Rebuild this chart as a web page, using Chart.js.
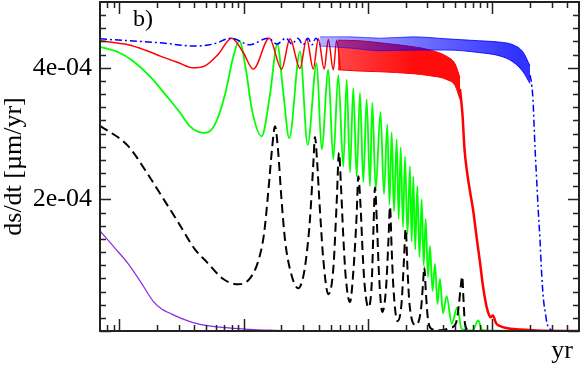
<!DOCTYPE html>
<html>
<head>
<meta charset="utf-8">
<title>ds/dt vs time</title>
<script src="https://cdn.jsdelivr.net/npm/chart.js@4.4.0/dist/chart.umd.min.js"></script>
<style>
    html, body { margin: 0; padding: 0; background: #fff; }
    #wrap { width: 581px; height: 368px; }
</style>
</head>
<body>
<div id="wrap"><canvas id="rateChart" width="581" height="368"></canvas></div>
<script>
// time in yr, rates in units of 1e-4 um/yr

const purpleYears = [700, 923, 1181, 1494, 1876, 2204, 2556, 3269, 4455, 7075, 11230, 18500, 23560];
const purpleRate = [1.52, 1.26, 1.02, 0.74, 0.45, 0.33, 0.27, 0.18, 0.10, 0.05, 0.026, 0.008, 0];

const greenYears = [700, 976, 1296, 1765, 2404, 3076, 3701, 4292, 4885, 5880, 7075,
    8204, 9218, 10430, 11660, 13950, 16270, 18630, 20700, 23260, 28350,
    32690, 38620, 42360, 47870, 52520, 57610, 63190, 67300, 71530, 76030,
    80970, 86060, 91500, 97430, 103600, 108100, 115100, 125800, 134200, 142700,
    148600, 154800, 161500, 169800, 176200, 182900, 190800, 198000, 207400, 217200,
    224100, 230800, 239500, 248600, 258900, 269700, 279800, 290400, 303000, 314500,
    329400, 345000, 361300, 378400, 400000, 428400, 469900, 521200, 565400, 659500,
    697300, 769000, 823400, 870400, 4960000];
const greenRate = [4.32, 4.24, 4.10, 3.87, 3.57, 3.32, 3.11, 3.03, 3.01, 3.14, 3.59,
    4.15, 4.41, 3.97, 3.36, 2.96, 3.59, 4.36, 3.67, 2.93, 4.25,
    2.83, 4.07, 2.76, 3.97, 2.61, 3.89, 2.50, 3.82, 2.41, 3.69,
    2.35, 3.62, 2.26, 3.52, 2.20, 3.47, 2.15, 3.33, 2.08, 3.14,
    1.92, 3.02, 1.82, 2.91, 1.70, 2.79, 1.58, 2.65, 1.47, 2.50,
    1.36, 2.35, 1.24, 2.20, 1.12, 2.00, 1.00, 1.70, 0.82, 1.29,
    0.61, 1.02, 0.41, 0.79, 0.27, 0.53, 0.11, 0.36, 0.03, 0.01,
    0.015, 0.16, 0.02, 0.01, 0];

const redYears = [700, 1180, 1610, 2190, 2960, 3910, 4890, 6210, 8000, 9870,
    11950, 16060, 20210, 23560, 28350, 32090, 36260, 39780, 44450, 47870,
    52520, 55930, 59990];
const redRate = [4.41, 4.35, 4.27, 4.17, 4.08, 4.00, 4.03, 4.20, 4.45, 4.24,
    3.98, 4.45, 3.98, 4.44, 3.99, 4.44, 3.98, 4.44, 3.98, 4.43,
    3.97, 4.42, 3.97];
// fast oscillations: upper / lower envelope
const redBandYears = [57300, 86100, 124600, 230000, 314500, 431000, 500000, 548000];
const redBandHigh = [4.42, 4.41, 4.38, 4.32, 4.27, 4.17, 4.06, 3.85];
const redBandLow = [3.97, 3.95, 3.94, 3.91, 3.88, 3.82, 3.73, 3.52];
const redTailYears = [548000, 574000, 596000, 624000, 660000, 701000, 746000, 793000, 839000, 887000,
    920000, 964000, 1009000, 1067000, 1149000, 1284000, 1664000, 2279000, 4960000];
const redTailRate = [3.68, 3.29, 2.76, 2.42, 2.12, 1.82, 1.42, 1.05, 0.68, 0.41,
    0.29, 0.21, 0.235, 0.12, 0.076, 0.045, 0.023, 0.008, 0];

const blueYears = [700, 1220, 2120, 4060, 5660, 8000, 11200, 15700, 18500, 21900,
    24400, 27300, 30000, 32900, 35400, 38100, 41100];
const blueRate = [4.44, 4.41, 4.38, 4.33, 4.36, 4.45, 4.35, 4.45, 4.36, 4.45,
    4.36, 4.45, 4.35, 4.45, 4.35, 4.45, 4.35];
const blueBandYears = [41100, 71500, 124600, 230000, 431000, 793000, 1149000, 1461000, 1759000, 2002000];
const blueBandHigh = [4.47, 4.47, 4.45, 4.47, 4.44, 4.41, 4.39, 4.35, 4.24, 4.03];
const blueBandLow = [4.33, 4.30, 4.26, 4.27, 4.27, 4.23, 4.18, 4.09, 3.94, 3.76];
const blueTailYears = [2002000, 2039000, 2116000, 2196000, 2266000, 2335000, 2409000, 2486000, 2570000, 2668000,
    2743000, 2899000, 3123000, 4960000];
const blueTailRate = [3.89, 3.82, 3.52, 2.79, 2.30, 1.82, 1.39, 0.86, 0.48, 0.26,
    0.12, 0.03, 0, 0];

const blackYears = [700, 1181, 1609, 2192, 2981, 4060, 5041, 6855, 9050, 11230,
    13030, 14560, 15830, 16890, 17850, 18870, 20140, 21480, 23560, 27480,
    30150, 32090, 34120, 36260, 37430, 38840, 40300, 41820, 43640, 47870,
    52520, 55930, 58360, 60570, 63190, 66060, 71530, 76030, 80970, 83400,
    86870, 90990, 94430, 100400, 106900, 110500, 113600, 117900, 122400, 130000,
    139300, 145900, 150000, 154800, 160000, 172300, 185600, 194400, 200600, 207400,
    215200, 242700, 266200, 276300, 283000, 292000, 303000, 326400, 378400, 455300,
    508800, 537800, 558200, 571700, 584600, 601000, 635400];
const blackRate = [3.12, 2.81, 2.45, 2.05, 1.65, 1.24, 1.05, 0.79, 0.71, 0.80,
    1.05, 1.47, 2.15, 2.76, 3.11, 2.76, 2.00, 1.39, 0.94, 0.65,
    0.83, 1.17, 1.70, 2.53, 2.95, 2.61, 2.08, 1.59, 1.09, 0.56,
    0.94, 1.95, 2.71, 2.20, 1.44, 0.83, 0.44, 0.89, 1.77, 2.35,
    1.92, 1.09, 0.64, 0.36, 0.71, 1.55, 2.18, 1.62, 0.86, 0.29,
    0.64, 1.39, 1.89, 1.24, 0.64, 0.15, 0.41, 1.09, 1.55, 0.94,
    0.41, 0.09, 0.33, 0.71, 0.97, 0.56, 0.18, 0.03, 0.01, 0.045,
    0.12, 0.41, 0.71, 0.83, 0.48, 0.11, 0.01];

// axis ticks
const xMajorTicks = [1e3, 1e4, 1e5, 1e6];
const yMajorTicks = [0, 2e-4, 4e-4];
const X_MIN = 700, X_MAX = 4.96e6;
const Y_MIN = 0, Y_MAX = 5e-4;

const SERIF = '"Liberation Serif", "Times New Roman", serif';

function toPoints(years, rates) {
    return years.map((t, i) => ({ x: t, y: rates[i] * 1e-4 }));
}

// the dense oscillation bands get denser to the right: fade the fill in along x
function bandColor(rgb, fromYr, toYr, a0, a1) {
    return ctx => {
        const chart = ctx.chart;
        const xs = chart.scales.x;
        if (!xs || !chart.chartArea) return `rgba(${rgb},${a1})`;
        const g = chart.ctx.createLinearGradient(xs.getPixelForValue(fromYr), 0, xs.getPixelForValue(toYr), 0);
        g.addColorStop(0, `rgba(${rgb},${a0})`);
        g.addColorStop(1, `rgba(${rgb},${a1})`);
        return g;
    };
}

// inward ticks on all four sides, frame, panel letter and x title
const framePlugin = {
    id: 'frame',
    afterDatasetsDraw(chart) {
        const { ctx, chartArea: a } = chart;
        const xs = chart.scales.x;
        const ys = chart.scales.y;
        ctx.save();
        ctx.strokeStyle = '#222';
        ctx.lineWidth = 1.5;

        const xTick = (v, len) => {
            const px = Math.round(xs.getPixelForValue(v)) + 0.5;
            ctx.beginPath();
            ctx.moveTo(px, a.bottom); ctx.lineTo(px, a.bottom - len);
            ctx.moveTo(px, a.top); ctx.lineTo(px, a.top + len);
            ctx.stroke();
        };
        const yTick = (v, len) => {
            const py = Math.round(ys.getPixelForValue(v)) + 0.5;
            ctx.beginPath();
            ctx.moveTo(a.left, py); ctx.lineTo(a.left + len, py);
            ctx.moveTo(a.right, py); ctx.lineTo(a.right - len, py);
            ctx.stroke();
        };

        for (let d = 100; d <= 1e6; d *= 10) {
            for (let m = 2; m <= 9; m++) {
                const v = m * d;
                if (v > X_MIN && v < X_MAX) xTick(v, 6);
            }
        }
        xMajorTicks.forEach(v => xTick(v, 12));

        for (let k = 1; k < 25; k++) {
            if (k % 10 !== 0) yTick(k * 2e-5, 6);
        }
        yMajorTicks.forEach(v => yTick(v, 11));

        ctx.lineWidth = 2;
        ctx.strokeRect(a.left, a.top, a.right - a.left, a.bottom - a.top);

        ctx.fillStyle = '#000';
        ctx.textBaseline = 'alphabetic';
        ctx.font = '24px ' + SERIF;
        ctx.textAlign = 'left';
        ctx.fillText('b)', 133, 26);
        ctx.font = '26px ' + SERIF;
        ctx.textAlign = 'right';
        ctx.fillText('yr', 573, 358);
        ctx.restore();
    }
};

const dashDot = [7, 3, 2, 3];
const blueBand = bandColor('0,0,255', 41100, 1500000, 0.3, 0.8);
const blueEdge = bandColor('0,0,255', 41100, 1500000, 0.5, 0.9);
const redBand = bandColor('255,0,0', 57300, 230000, 0.72, 0.95);

new Chart(document.getElementById('rateChart'), {
    type: 'line',
    data: {
        datasets: [
            { label: 'black', data: toPoints(blackYears, blackRate), borderColor: '#000', borderWidth: 2, borderDash: [9, 5], order: 1 },
            { label: 'blue', data: toPoints(blueYears, blueRate), borderColor: '#0000ff', borderWidth: 1.5, borderDash: dashDot, order: 2 },
            { label: 'blue high', data: toPoints(blueBandYears, blueBandHigh), borderColor: blueEdge, borderWidth: 1, fill: '+1', backgroundColor: blueBand, order: 2 },
            { label: 'blue low', data: toPoints(blueBandYears, blueBandLow), borderColor: blueEdge, borderWidth: 1, order: 2 },
            { label: 'blue tail', data: toPoints(blueTailYears, blueTailRate), borderColor: '#0000ff', borderWidth: 1.5, borderDash: dashDot, order: 2 },
            { label: 'red', data: toPoints(redYears, redRate), borderColor: '#ff0000', borderWidth: 1.5, order: 4 },
            { label: 'red high', data: toPoints(redBandYears, redBandHigh), borderColor: '#ff0000', borderWidth: 1, fill: '+1', backgroundColor: redBand, order: 4 },
            { label: 'red low', data: toPoints(redBandYears, redBandLow), borderColor: '#ff0000', borderWidth: 1, order: 4 },
            { label: 'red tail', data: toPoints(redTailYears, redTailRate), borderColor: '#ff0000', borderWidth: 2.5, order: 4 },
            { label: 'green', data: toPoints(greenYears, greenRate), borderColor: '#00ff00', borderWidth: 1.8, order: 5 },
            { label: 'purple', data: toPoints(purpleYears, purpleRate), borderColor: '#8a2be2', borderWidth: 1.2, order: 6 }
        ]
    },
    options: {
        responsive: false,
        animation: false,
        layout: { padding: { top: 2, right: 2, left: 0, bottom: 0 } },
        elements: {
            point: { radius: 0, hoverRadius: 0 },
            line: { cubicInterpolationMode: 'monotone', fill: false }
        },
        plugins: {
            legend: { display: false },
            tooltip: { enabled: false }
        },
        scales: {
            x: {
                type: 'logarithmic',
                min: X_MIN,
                max: X_MAX,
                afterFit: s => { s.height = 37; s.paddingLeft = 0; s.paddingRight = 0; },
                ticks: { display: false },
                grid: { display: false, drawTicks: false },
                border: { display: false }
            },
            y: {
                min: Y_MIN,
                max: Y_MAX,
                afterFit: s => { s.width = 100; s.paddingTop = 0; s.paddingBottom = 0; },
                grid: { display: false, drawTicks: false },
                border: { display: false },
                ticks: {
                    stepSize: 1e-4,
                    autoSkip: false,
                    padding: 8,
                    color: '#000',
                    font: { family: SERIF, size: 26 },
                    callback: v => {
                        const k = Math.round(v * 1e4);
                        return (k === 2 || k === 4) ? k + 'e-04' : '';
                    }
                },
                title: {
                    display: true,
                    text: 'ds/dt [µm/yr]',
                    color: '#000',
                    font: { family: SERIF, size: 26, lineHeight: 1.1 },
                    padding: 0
                }
            }
        }
    },
    plugins: [framePlugin]
});
</script>
</body>
</html>
